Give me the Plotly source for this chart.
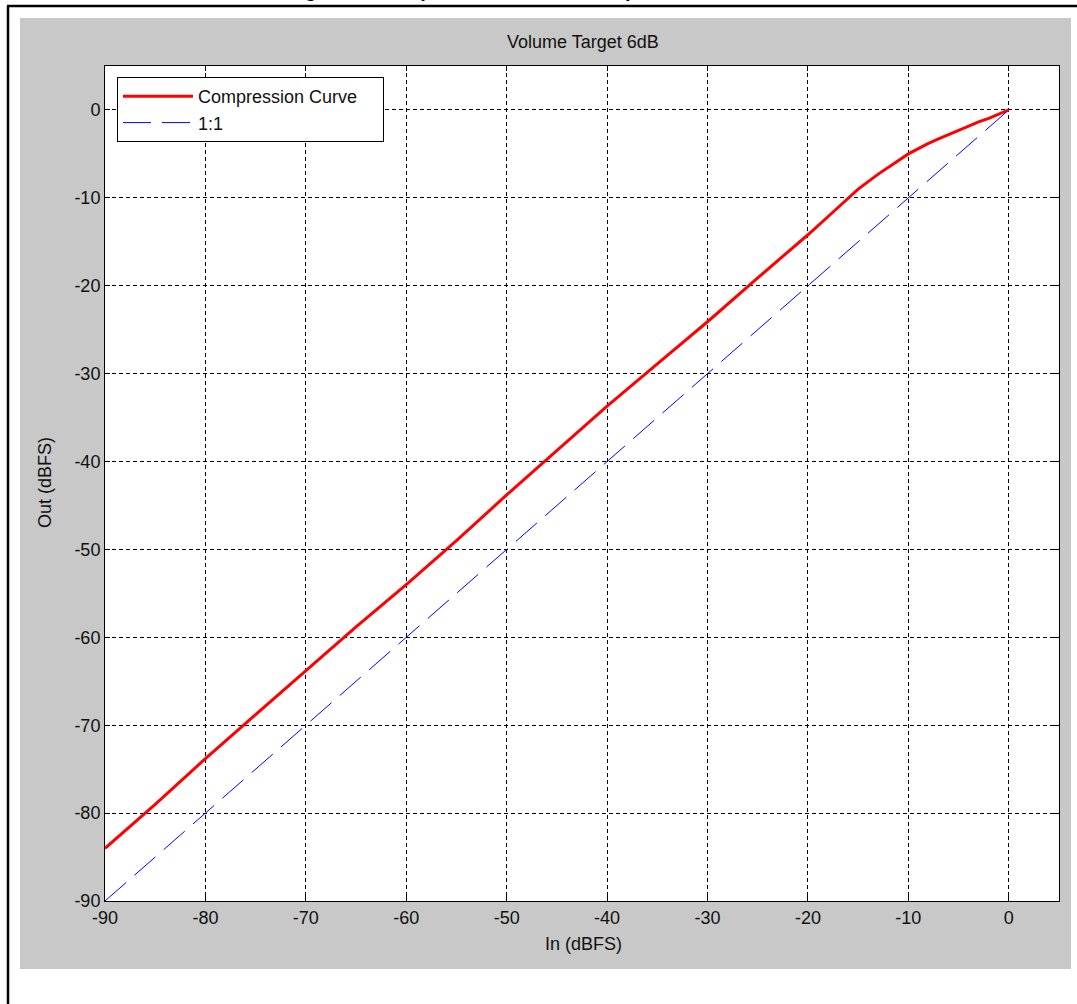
import plotly.graph_objects as go

# ---- data ----
comp_in = [-90, -85, -80, -75, -70, -65, -60, -55, -50, -45, -40, -35, -30, -25, -20,
           -17, -15, -13, -12, -11, -10, -9, -8, -7, -6, -5, -4, -3, -2, -1, 0]
comp_out = [-84, -79, -73.8, -68.8, -63.7, -58.8, -54, -49, -43.8, -38.8, -33.7, -28.9, -24.1, -19.1, -14.2,
            -11.1, -9, -7.3, -6.5, -5.7, -5, -4.4, -3.8, -3.3, -2.8, -2.3, -1.8, -1.35, -0.95, -0.5, 0]
ref_in = [-90, 0]
ref_out = [-90, 0]
tick_vals = [-90, -80, -70, -60, -50, -40, -30, -20, -10, 0]
tick_text = [str(v) for v in tick_vals]

# ---- layout geometry (pixels) ----
FW, FH = 1077, 1004
L, R, T, B = 105, 1059, 66, 901
W, H = R - L, B - T


def px(x):
    return (x - L) / W


def py(y):
    return (B - y) / H


FONT = "Liberation Sans, Arial, sans-serif"
fs = 18

fig = go.Figure()
fig.add_trace(go.Scatter(x=comp_in, y=comp_out, mode="lines",
                         name="Compression Curve&nbsp;&nbsp;&nbsp;&nbsp;",
                         line=dict(color="#ff0000", width=3)))
fig.add_trace(go.Scatter(x=ref_in, y=ref_out, mode="lines", name="1:1",
                         line=dict(color="#0000ff", width=1, dash="28px,11px")))

axis_common = dict(
    range=[-90, 5], tickvals=tick_vals, ticktext=tick_text,
    showline=True, linecolor="black", linewidth=1,
    mirror="ticks", ticks="inside", ticklen=5, tickcolor="black", tickwidth=1,
    showgrid=True, gridcolor="black", gridwidth=1, griddash="4px,3px", zeroline=False,
    tickfont=dict(family=FONT, size=fs, color="#111"),
)

fig.update_layout(
    width=FW, height=FH,
    margin=dict(l=L, r=FW - R, t=T, b=FH - B, autoexpand=False),
    paper_bgcolor="white", plot_bgcolor="white",
    font=dict(family=FONT, size=fs, color="#111"),
    xaxis=dict(**axis_common),
    yaxis=dict(**axis_common),
    showlegend=True,
    legend=dict(x=px(117), y=py(77), xanchor="left", yanchor="top",
                bgcolor="white", bordercolor="black", borderwidth=1,
                font=dict(family=FONT, size=fs, color="#111"), itemwidth=70,
                tracegroupgap=0),
    shapes=[
        dict(type="rect", xref="paper", yref="paper", x0=px(20), x1=px(1071), y0=py(969), y1=py(18),
             fillcolor="#c8c8c8", line=dict(width=0), layer="below"),
        dict(type="rect", xref="paper", yref="paper", x0=0, x1=1, y0=0, y1=1,
             fillcolor="white", line=dict(width=0), layer="below"),
        dict(type="line", xref="paper", yref="paper", x0=px(7), x1=px(1077), y0=py(6), y1=py(6),
             line=dict(color="black", width=2.5)),
        dict(type="line", xref="paper", yref="paper", x0=px(8), x1=px(8), y0=py(1004), y1=py(6),
             line=dict(color="black", width=2.5)),
    ],
    annotations=[
        dict(text="Volume Target 6dB", xref="paper", yref="paper", x=px(583), y=py(42),
             xanchor="center", yanchor="middle", showarrow=False,
             font=dict(family=FONT, size=fs, color="#111")),
        dict(text="In (dBFS)", xref="paper", yref="paper", x=px(583), y=py(944),
             xanchor="center", yanchor="middle", showarrow=False,
             font=dict(family=FONT, size=fs, color="#111")),
        dict(text="Out (dBFS)", xref="paper", yref="paper", x=px(45), y=py(483),
             xanchor="center", yanchor="middle", showarrow=False, textangle=-90,
             font=dict(family=FONT, size=fs, color="#111")),
        dict(text="<b>Figure 9. Compression Curve Example</b>", xref="paper", yref="paper",
             x=px(470), y=py(3), xanchor="center", yanchor="bottom", showarrow=False,
             font=dict(family=FONT, size=20, color="black")),
    ],
)

fig.write_html("out.html", config={"displayModeBar": False},
               post_script="document.body.style.margin='0';document.body.style.padding='0';")
